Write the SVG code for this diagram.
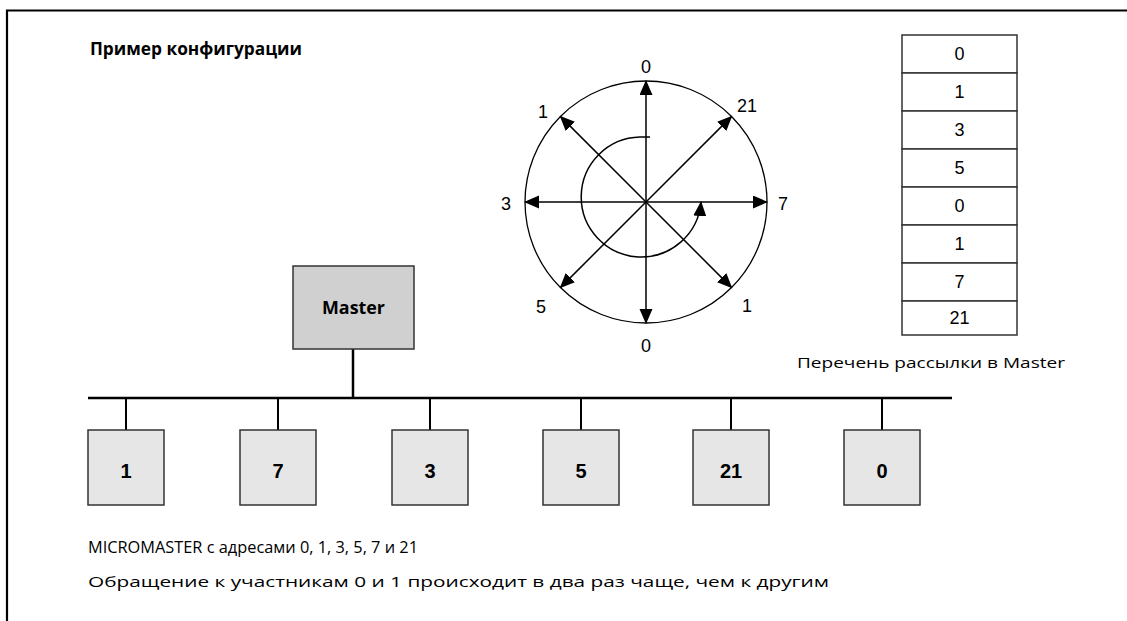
<svg xmlns="http://www.w3.org/2000/svg" width="1127" height="621" viewBox="0 0 1127 621">
<style>
.frame{fill:none;stroke:#000;stroke-width:2.2}
.cal{font-family:"Open Sans","Noto Sans","Liberation Sans",sans-serif;fill:#000}
.calb{font-family:"Open Sans","Noto Sans","Liberation Sans",sans-serif;font-weight:bold;fill:#000}
.num{font-family:"Liberation Sans",Arial,sans-serif;font-size:18px;fill:#000;text-anchor:middle}
.numb{font-family:"Liberation Sans",Arial,sans-serif;font-size:20px;font-weight:bold;fill:#000;text-anchor:middle}
.arrow{fill:none;stroke:#000;stroke-width:1.5;marker-end:url(#ah)}
.ring{fill:none;stroke:#000;stroke-width:1.3}
.slave{fill:#e6e6e6;stroke:#333;stroke-width:1.5}
.master{fill:#d0d0d0;stroke:#333;stroke-width:1.5}
.cell{fill:#fff;stroke:#333;stroke-width:1.5}
.bus{stroke:#000;stroke-width:2.5;fill:none}
.drop{stroke:#000;stroke-width:2;fill:none}
</style>
<defs>
<marker id="ah" markerUnits="userSpaceOnUse" markerWidth="16" markerHeight="14" refX="14" refY="6.5" orient="auto">
<path d="M0,0 L15,6.5 L0,13 z" fill="#000"/>
</marker>
</defs>
<path class="frame" d="M7,621 L7,10.5 L1127,10.5"/>
<text class="calb" x="90" y="55" font-size="18" textLength="212" lengthAdjust="spacingAndGlyphs">Пример конфигурации</text>

<g id="ring">
<circle class="ring" cx="646" cy="202" r="121"/>
<path class="arrow" d="M646,202 L646,81"/>
<path class="arrow" d="M646,202 L646,323"/>
<path class="arrow" d="M646,202 L525,202"/>
<path class="arrow" d="M646,202 L767,202"/>
<path class="arrow" d="M646,202 L731.6,116.4"/>
<path class="arrow" d="M646,202 L560.4,116.4"/>
<path class="arrow" d="M646,202 L560.4,287.6"/>
<path class="arrow" d="M646,202 L731.6,287.6"/>
<path class="arrow" d="M650,137 L640,137 A60,60 0 1 0 701,202"/>
<text class="num" x="646" y="73">0</text>
<text class="num" x="747" y="112">21</text>
<text class="num" x="543" y="118">1</text>
<text class="num" x="506" y="210">3</text>
<text class="num" x="783" y="210">7</text>
<text class="num" x="541" y="313">5</text>
<text class="num" x="747" y="312">1</text>
<text class="num" x="646" y="352">0</text>
</g>

<g id="list">
<rect class="cell" x="902" y="35" width="115" height="38"/>
<rect class="cell" x="902" y="73" width="115" height="38"/>
<rect class="cell" x="902" y="111" width="115" height="38"/>
<rect class="cell" x="902" y="149" width="115" height="38"/>
<rect class="cell" x="902" y="187" width="115" height="38"/>
<rect class="cell" x="902" y="225" width="115" height="38"/>
<rect class="cell" x="902" y="263" width="115" height="38"/>
<rect class="cell" x="902" y="301" width="115" height="34"/>
<text class="num" x="959.5" y="60">0</text>
<text class="num" x="959.5" y="98">1</text>
<text class="num" x="959.5" y="136">3</text>
<text class="num" x="959.5" y="174">5</text>
<text class="num" x="959.5" y="212">0</text>
<text class="num" x="959.5" y="250">1</text>
<text class="num" x="959.5" y="288">7</text>
<text class="num" x="959.5" y="324">21</text>
<text class="cal" x="797" y="368" font-size="15" textLength="268" lengthAdjust="spacingAndGlyphs">Перечень рассылки в Master</text>
</g>

<g id="connectors">
<path class="bus" d="M353,349 L353,398"/>
<path class="bus" d="M88,398 L952,398"/>
<path class="drop" d="M126,398 V430 M278,398 V430 M430,398 V430 M581,398 V430 M731,398 V430 M882,398 V430"/>
</g>

<g id="master">
<rect class="master" x="293" y="266" width="121" height="83"/>
<text class="calb" x="353.5" y="314" font-size="18" text-anchor="middle" textLength="63" lengthAdjust="spacingAndGlyphs">Master</text>
</g>
<g id="node1"><rect class="slave" x="88" y="430" width="76" height="75"/><text class="numb" x="126" y="478">1</text></g>
<g id="node7"><rect class="slave" x="240" y="430" width="76" height="75"/><text class="numb" x="278" y="478">7</text></g>
<g id="node3"><rect class="slave" x="392" y="430" width="76" height="75"/><text class="numb" x="430" y="478">3</text></g>
<g id="node5"><rect class="slave" x="543" y="430" width="76" height="75"/><text class="numb" x="581" y="478">5</text></g>
<g id="node21"><rect class="slave" x="693" y="430" width="76" height="75"/><text class="numb" x="731" y="478">21</text></g>
<g id="node0"><rect class="slave" x="844" y="430" width="76" height="75"/><text class="numb" x="882" y="478">0</text></g>

<text class="cal" x="88" y="553" font-size="16" textLength="330" lengthAdjust="spacingAndGlyphs">MICROMASTER с адресами 0, 1, 3, 5, 7 и 21</text>
<text class="cal" x="88" y="587" font-size="15" textLength="741" lengthAdjust="spacingAndGlyphs">Обращение к участникам 0 и 1 происходит в два раз чаще, чем к другим</text>
</svg>
